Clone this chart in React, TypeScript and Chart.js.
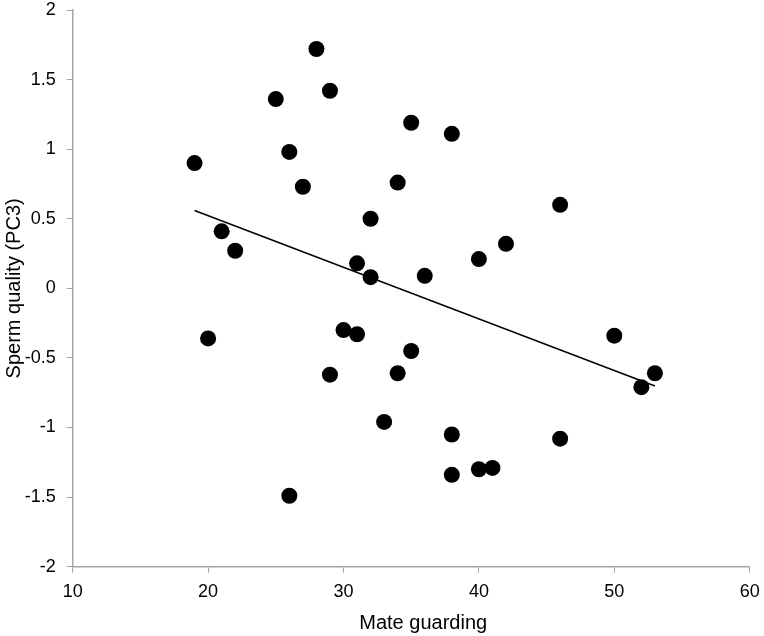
import React, { useEffect, useRef } from "react";
import { Chart, registerables } from "chart.js";

Chart.register(...registerables);

const mateGuarding = [
  19, 20, 21, 22, 25, 26, 26, 27, 28, 29, 29, 30, 31, 31, 32, 32, 33,
  34, 34, 35, 35, 36, 38, 38, 38, 40, 40, 41, 42, 46, 46, 50, 52, 53,
];
const spermQuality = [
  0.9, -0.36, 0.41, 0.27, 1.36, 0.98, -1.49, 0.73, 1.72, 1.42, -0.62, -0.3,
  -0.33, 0.18, 0.08, 0.5, -0.96, 0.76, -0.61, 1.19, -0.45, 0.09, 1.11, -1.05,
  -1.34, 0.21, -1.3, -1.29, 0.32, 0.6, -1.08, -0.34, -0.71, -0.61,
];
const xTitle = "Mate guarding";
const yTitle = "Sperm quality (PC3)";

const FONT_FAMILY = "'Liberation Sans', Arial, sans-serif";

function regression(xs: number[], ys: number[]) {
  const n = xs.length;
  const mx = xs.reduce((a, b) => a + b, 0) / n;
  const my = ys.reduce((a, b) => a + b, 0) / n;
  let sxy = 0, sxx = 0;
  for (let i = 0; i < n; i++) {
    sxy += (xs[i] - mx) * (ys[i] - my);
    sxx += (xs[i] - mx) * (xs[i] - mx);
  }
  const slope = sxy / sxx;
  return { slope, intercept: my - slope * mx };
}

const axisTitles = {
  id: "axisTitles",
  afterDraw(chart: any) {
    const { ctx, chartArea } = chart;
    ctx.save();
    ctx.fillStyle = "#000";
    ctx.font = `20px ${FONT_FAMILY}`;
    ctx.textAlign = "center";
    ctx.textBaseline = "alphabetic";
    const cx = (chartArea.left + chartArea.right) / 2 + 12;
    ctx.fillText(xTitle, cx, chartArea.bottom + 62);
    ctx.translate(19.5, (chartArea.top + chartArea.bottom) / 2);
    ctx.rotate(-Math.PI / 2);
    ctx.fillText(yTitle, 0, 0);
    ctx.restore();
  },
};

export default function App() {
  const ref = useRef<HTMLCanvasElement | null>(null);
  useEffect(() => {
    if (!ref.current) return;
    const { slope, intercept } = regression(mateGuarding, spermQuality);
    const xMin = Math.min(...mateGuarding);
    const xMax = Math.max(...mateGuarding);
    const points = mateGuarding.map((x, i) => ({ x, y: spermQuality[i] }));
    const font = { family: FONT_FAMILY, size: 18 };
    const axisColor = "#a6a6a6";
    const chart = new Chart(ref.current, {
      type: "scatter",
      data: {
        datasets: [
          {
            type: "line",
            data: [
              { x: xMin, y: intercept + slope * xMin },
              { x: xMax, y: intercept + slope * xMax },
            ],
            borderColor: "#000",
            borderWidth: 1.5,
            pointRadius: 0,
            fill: false,
          } as any,
          {
            data: points,
            backgroundColor: "#000",
            borderWidth: 0,
            pointRadius: 8,
          },
        ],
      },
      options: {
        responsive: false,
        animation: false,
        layout: { padding: { top: 10, right: 14.3, left: 0, bottom: 0 } },
        plugins: { legend: { display: false }, tooltip: { enabled: false } },
        scales: {
          x: {
            type: "linear",
            min: 10,
            max: 60,
            afterFit: (s: any) => {
              s.height = 69.3;
              s.paddingLeft = 0;
              s.paddingRight = 0;
            },
            ticks: {
              stepSize: 10,
              color: "#000",
              font,
              padding: 9,
              callback: (v: any) => String(v),
            },
            grid: { drawOnChartArea: false, tickLength: 6, color: axisColor },
            border: { color: axisColor, width: 1.5 },
          },
          y: {
            type: "linear",
            min: -2,
            max: 2,
            afterFit: (s: any) => {
              s.width = 72.7;
              s.paddingTop = 0;
              s.paddingBottom = 0;
            },
            ticks: {
              stepSize: 0.5,
              color: "#000",
              font,
              padding: 11,
              callback: (v: any) => String(v),
            },
            grid: { drawOnChartArea: false, tickLength: 6, color: axisColor },
            border: { color: axisColor, width: 1.5 },
          },
        },
      },
      plugins: [axisTitles],
    });
    return () => chart.destroy();
  }, []);
  return (
    <div style={{ position: "fixed", top: 0, left: 0, width: 764, height: 636, background: "#fff" }}>
      <canvas ref={ref} width={764} height={636} />
    </div>
  );
}
